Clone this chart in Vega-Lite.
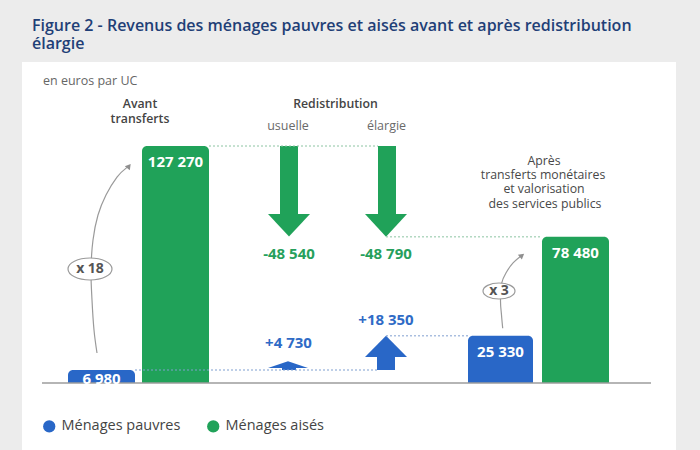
{
  "$schema": "https://vega.github.io/schema/vega-lite/v6.json",
  "width": 654,
  "height": 388,
  "autosize": {"type": "none"},
  "padding": {"left": 22, "top": 62, "right": 24, "bottom": 0},
  "background": "#ececec",
  "config": {
    "font": "Open Sans",
    "view": {"fill": "white", "stroke": null}
  },
  "title": {
    "text": ["Figure 2 - Revenus des ménages pauvres et aisés avant et après redistribution", "élargie"],
    "anchor": "start",
    "frame": "group",
    "fontSize": 16,
    "fontWeight": 600,
    "color": "#1f3f77",
    "lineHeight": 18,
    "offset": 10,
    "dx": 10
  },
  "datasets": {
    "bars": [
      {"serie": "Ménages pauvres", "x1": 4.6, "x2": 11.3, "xc": 7.95, "v": 6980, "label": "6 980"},
      {"serie": "Ménages aisés", "x1": 12.0, "x2": 18.7, "xc": 15.35, "v": 127270, "label": "127 270"},
      {"serie": "Ménages pauvres", "x1": 44.6, "x2": 51.1, "xc": 47.85, "v": 25330, "label": "25 330"},
      {"serie": "Ménages aisés", "x1": 52.0, "x2": 58.7, "xc": 55.35, "v": 78480, "label": "78 480"}
    ],
    "shafts": [
      {"arrow": "usuelle-aisés", "serie": "Ménages aisés", "x1": 25.8, "x2": 27.6, "y1": 127270, "y2": 90750},
      {"arrow": "élargie-aisés", "serie": "Ménages aisés", "x1": 35.6, "x2": 37.4, "y1": 127270, "y2": 90750},
      {"arrow": "usuelle-pauvres", "serie": "Ménages pauvres", "x1": 26.0, "x2": 27.4, "y1": 6980, "y2": 8050},
      {"arrow": "élargie-pauvres", "serie": "Ménages pauvres", "x1": 35.5, "x2": 37.3, "y1": 6980, "y2": 13960}
    ],
    "heads": [
      {"arrow": "usuelle-aisés", "serie": "Ménages aisés", "x": 24.6, "y": 90750, "base": 90750},
      {"arrow": "usuelle-aisés", "serie": "Ménages aisés", "x": 26.7, "y": 78730, "base": 90750},
      {"arrow": "usuelle-aisés", "serie": "Ménages aisés", "x": 28.8, "y": 90750, "base": 90750},
      {"arrow": "élargie-aisés", "serie": "Ménages aisés", "x": 34.3, "y": 90750, "base": 90750},
      {"arrow": "élargie-aisés", "serie": "Ménages aisés", "x": 36.4, "y": 78480, "base": 90750},
      {"arrow": "élargie-aisés", "serie": "Ménages aisés", "x": 38.5, "y": 90750, "base": 90750},
      {"arrow": "usuelle-pauvres", "serie": "Ménages pauvres", "x": 24.6, "y": 8050, "base": 8050},
      {"arrow": "usuelle-pauvres", "serie": "Ménages pauvres", "x": 26.6, "y": 11710, "base": 8050},
      {"arrow": "usuelle-pauvres", "serie": "Ménages pauvres", "x": 28.6, "y": 8050, "base": 8050},
      {"arrow": "élargie-pauvres", "serie": "Ménages pauvres", "x": 34.3, "y": 13960, "base": 13960},
      {"arrow": "élargie-pauvres", "serie": "Ménages pauvres", "x": 36.4, "y": 25330, "base": 13960},
      {"arrow": "élargie-pauvres", "serie": "Ménages pauvres", "x": 38.5, "y": 13960, "base": 13960}
    ],
    "connectors": [
      {"serie": "Ménages aisés", "x1": 18.7, "x2": 35.6, "v": 127270},
      {"serie": "Ménages aisés", "x1": 36.4, "x2": 52.0, "v": 78480},
      {"serie": "Ménages pauvres", "x1": 11.3, "x2": 35.5, "v": 6980},
      {"serie": "Ménages pauvres", "x1": 36.4, "x2": 44.6, "v": 25330}
    ],
    "axis": [{"x1": 2.0, "x2": 62.9, "v": 0}],
    "curves": [
      {"curve": "x 18", "ord": 1, "x": 7.5, "y": 16110},
      {"curve": "x 18", "ord": 2, "x": 7.2, "y": 28460},
      {"curve": "x 18", "ord": 3, "x": 7.0, "y": 44570},
      {"curve": "x 18", "ord": 4, "x": 6.9, "y": 60680},
      {"curve": "x 18", "ord": 5, "x": 7.1, "y": 76790},
      {"curve": "x 18", "ord": 6, "x": 7.6, "y": 90220},
      {"curve": "x 18", "ord": 7, "x": 8.4, "y": 100960},
      {"curve": "x 18", "ord": 8, "x": 9.5, "y": 110600},
      {"curve": "x 18", "ord": 9, "x": 10.5, "y": 115800},
      {"curve": "x 3", "ord": 1, "x": 48.07, "y": 29370},
      {"curve": "x 3", "ord": 2, "x": 47.95, "y": 36520},
      {"curve": "x 3", "ord": 3, "x": 47.85, "y": 44030},
      {"curve": "x 3", "ord": 4, "x": 47.97, "y": 53700},
      {"curve": "x 3", "ord": 5, "x": 48.47, "y": 59770},
      {"curve": "x 3", "ord": 6, "x": 49.13, "y": 64600},
      {"curve": "x 3", "ord": 7, "x": 49.9, "y": 68200}
    ],
    "tips": [
      {"curve": "x 18", "x": 10.7, "y": 116500},
      {"curve": "x 3", "x": 50.0, "y": 68500}
    ],
    "bubbles": [
      {"bubble": "x 18", "x": 6.8, "y": 61220},
      {"bubble": "x 3", "x": 47.7, "y": 49400}
    ],
    "headers": [
      {"text": "Avant", "x": 11.8, "y": 149820},
      {"text": "transferts", "x": 11.8, "y": 141770},
      {"text": "Redistribution", "x": 31.35, "y": 149820}
    ],
    "subs": [
      {"text": "usuelle", "x": 26.6, "y": 138010},
      {"text": "élargie", "x": 36.45, "y": 138010}
    ],
    "notes": [
      {"text": "Après", "x": 52.2, "y": 119210},
      {"text": "transferts monétaires", "x": 52.1, "y": 111700},
      {"text": "et valorisation", "x": 52.2, "y": 104180},
      {"text": "des services publics", "x": 52.3, "y": 96120}
    ],
    "unit": [{"text": "en euros par UC", "x": 2.1, "y": 162170}],
    "deltas": [
      {"serie": "Ménages aisés", "text": "-48 540", "x": 26.7, "y": 69270},
      {"serie": "Ménages aisés", "text": "-48 790", "x": 36.4, "y": 69270},
      {"serie": "Ménages pauvres", "text": "+4 730", "x": 26.65, "y": 21480},
      {"serie": "Ménages pauvres", "text": "+18 350", "x": 36.4, "y": 33830}
    ]
  },
  "layer": [
    {
      "data": {"name": "bars"},
      "mark": {"type": "rect", "cornerRadiusTopLeft": 5, "cornerRadiusTopRight": 5},
      "encoding": {
        "x": {"field": "x1", "type": "quantitative", "scale": {"domain": [0, 65.4], "nice": false, "zero": false}, "axis": null},
        "x2": {"field": "x2"},
        "y": {"field": "v", "type": "quantitative", "scale": {"domain": [-35980, 172380], "nice": false, "zero": false}, "axis": null, "stack": null},
        "y2": {"datum": 0},
        "color": {
          "field": "serie",
          "type": "nominal",
          "scale": {"domain": ["Ménages pauvres", "Ménages aisés"], "range": ["#2967c7", "#20a259"]},
          "legend": {
            "orient": "none",
            "legendX": 20,
            "legendY": 357,
            "direction": "horizontal",
            "title": null,
            "symbolType": "circle",
            "symbolSize": 150,
            "symbolStrokeWidth": 0,
            "labelFontSize": 14.5,
            "labelColor": "#444444",
            "labelOffset": 5,
            "columnPadding": 25
          }
        }
      }
    },
    {
      "data": {"name": "shafts"},
      "mark": {"type": "rect"},
      "encoding": {
        "x": {"field": "x1", "type": "quantitative"},
        "x2": {"field": "x2"},
        "y": {"field": "y1", "type": "quantitative", "stack": null},
        "y2": {"field": "y2"},
        "color": {"field": "serie", "type": "nominal"}
      }
    },
    {
      "data": {"name": "heads"},
      "mark": {"type": "area", "interpolate": "linear"},
      "encoding": {
        "x": {"field": "x", "type": "quantitative"},
        "y": {"field": "y", "type": "quantitative", "stack": null},
        "y2": {"field": "base"},
        "detail": {"field": "arrow", "type": "nominal"},
        "color": {"field": "serie", "type": "nominal"}
      }
    },
    {
      "data": {"name": "connectors"},
      "mark": {"type": "rule", "strokeDash": [2, 2], "strokeWidth": 1},
      "encoding": {
        "x": {"field": "x1", "type": "quantitative"},
        "x2": {"field": "x2"},
        "y": {"field": "v", "type": "quantitative"},
        "stroke": {"field": "serie", "type": "nominal", "scale": {"domain": ["Ménages pauvres", "Ménages aisés"], "range": ["#7f9fd0", "#8cc4a2"]}, "legend": null}
      }
    },
    {
      "data": {"name": "axis"},
      "mark": {"type": "rule", "color": "#9c9c9c", "strokeWidth": 1.5},
      "encoding": {
        "x": {"field": "x1", "type": "quantitative"},
        "x2": {"field": "x2"},
        "y": {"field": "v", "type": "quantitative"}
      }
    },
    {
      "data": {"name": "curves"},
      "mark": {"type": "line", "interpolate": "cardinal", "color": "#9a9a9a", "strokeWidth": 1.2},
      "encoding": {
        "x": {"field": "x", "type": "quantitative"},
        "y": {"field": "y", "type": "quantitative"},
        "detail": {"field": "curve", "type": "nominal"},
        "order": {"field": "ord", "type": "quantitative"}
      }
    },
    {
      "data": {"name": "tips"},
      "mark": {"type": "point", "shape": "triangle-up", "filled": true, "color": "#8f8f8f", "size": 40, "opacity": 1},
      "encoding": {
        "x": {"field": "x", "type": "quantitative"},
        "y": {"field": "y", "type": "quantitative"},
        "angle": {"field": "curve", "type": "nominal", "scale": {"domain": ["x 18", "x 3"], "range": [38, 51]}, "legend": null}
      }
    },
    {
      "data": {"name": "bubbles"},
      "mark": {"type": "point", "shape": "M-1,0 A1,0.5 0 1,1 1,0 A1,0.5 0 1,1 -1,0 Z", "filled": false, "fill": "white", "stroke": "#9a9a9a", "strokeWidth": 1.2, "opacity": 1},
      "encoding": {
        "x": {"field": "x", "type": "quantitative"},
        "y": {"field": "y", "type": "quantitative"},
        "size": {"field": "bubble", "type": "nominal", "scale": {"domain": ["x 18", "x 3"], "range": [1936, 1024]}, "legend": null}
      }
    },
    {
      "data": {"name": "bubbles"},
      "mark": {"type": "text", "fontSize": 14, "fontWeight": "bold", "color": "#555555", "align": "center", "baseline": "middle"},
      "encoding": {
        "x": {"field": "x", "type": "quantitative"},
        "y": {"field": "y", "type": "quantitative"},
        "text": {"field": "bubble"}
      }
    },
    {
      "data": {"name": "bars"},
      "transform": [{"filter": "datum.v > 10000"}],
      "mark": {"type": "text", "fontSize": 15, "fontWeight": "bold", "color": "white", "align": "center", "baseline": "middle", "dy": 16},
      "encoding": {
        "x": {"field": "xc", "type": "quantitative"},
        "y": {"field": "v", "type": "quantitative"},
        "text": {"field": "label"}
      }
    },
    {
      "data": {"name": "bars"},
      "transform": [{"filter": "datum.v <= 10000"}],
      "mark": {"type": "text", "fontSize": 15, "fontWeight": "bold", "color": "white", "align": "center", "baseline": "middle", "dy": 9},
      "encoding": {
        "x": {"field": "xc", "type": "quantitative"},
        "y": {"field": "v", "type": "quantitative"},
        "text": {"field": "label"}
      }
    },
    {
      "data": {"name": "deltas"},
      "mark": {"type": "text", "fontSize": 15, "fontWeight": "bold", "align": "center", "baseline": "middle"},
      "encoding": {
        "x": {"field": "x", "type": "quantitative"},
        "y": {"field": "y", "type": "quantitative"},
        "text": {"field": "text"},
        "fill": {"field": "serie", "type": "nominal", "scale": {"domain": ["Ménages pauvres", "Ménages aisés"], "range": ["#2f6bc6", "#26a05c"]}, "legend": null}
      }
    },
    {
      "data": {"name": "headers"},
      "mark": {"type": "text", "fontSize": 12.3, "fontWeight": 600, "color": "#444444", "align": "center", "baseline": "middle"},
      "encoding": {
        "x": {"field": "x", "type": "quantitative"},
        "y": {"field": "y", "type": "quantitative"},
        "text": {"field": "text"}
      }
    },
    {
      "data": {"name": "subs"},
      "mark": {"type": "text", "fontSize": 12.5, "color": "#6a6a6a", "align": "center", "baseline": "middle"},
      "encoding": {
        "x": {"field": "x", "type": "quantitative"},
        "y": {"field": "y", "type": "quantitative"},
        "text": {"field": "text"}
      }
    },
    {
      "data": {"name": "notes"},
      "mark": {"type": "text", "fontSize": 12.3, "color": "#484848", "align": "center", "baseline": "middle"},
      "encoding": {
        "x": {"field": "x", "type": "quantitative"},
        "y": {"field": "y", "type": "quantitative"},
        "text": {"field": "text"}
      }
    },
    {
      "data": {"name": "unit"},
      "mark": {"type": "text", "fontSize": 12.5, "color": "#666666", "align": "left", "baseline": "middle"},
      "encoding": {
        "x": {"field": "x", "type": "quantitative"},
        "y": {"field": "y", "type": "quantitative"},
        "text": {"field": "text"}
      }
    }
  ]
}
